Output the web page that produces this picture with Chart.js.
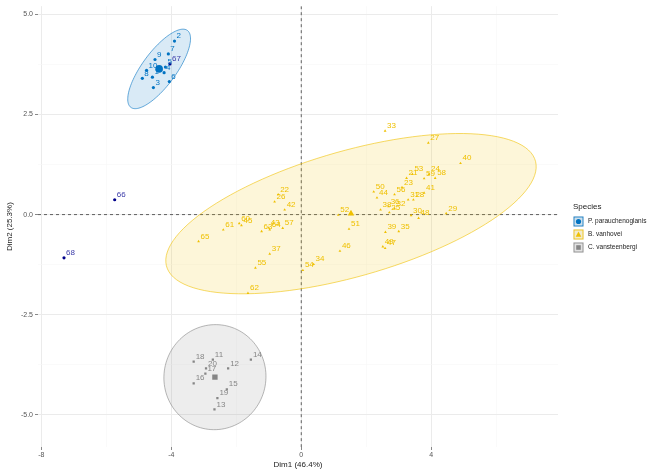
<!DOCTYPE html>
<html>
<head>
<meta charset="utf-8">
<script src="https://cdn.jsdelivr.net/npm/chart.js@4.4.1/dist/chart.umd.min.js"></script>
<style>
  html, body { margin: 0; padding: 0; background: #fff; }
  #wrap { width: 648px; height: 472px; }
</style>
</head>
<body>
<div id="wrap"><canvas id="pcaChart" width="648" height="472"></canvas></div>
<script>
// groups
const speciesNames = ["P. parauchenoglanis", "B. vanhovei", "C. vansteenbergi"];
const speciesColors = ["#0073C2", "#EFC000", "#868686"];
const speciesShapes = ["circle", "triangle", "rect"];
const supColor = "#00008B";

// individuals (PCA coordinates)
const paraLabels = ["1", "2", "3", "4", "5", "6", "7", "8", "9", "10"];
const paraDim1 = [-4.58, -3.90, -4.55, -4.22, -4.18, -4.06, -4.09, -4.89, -4.50, -4.76];
const paraDim2 = [3.43, 4.33, 3.17, 3.54, 3.68, 3.32, 4.01, 3.40, 3.87, 3.60];

const vanhLabels = ["21", "22", "23", "24", "25", "26", "27", "28", "29", "30",
  "31", "32", "33", "34", "35", "36", "37", "38", "39", "40",
  "41", "42", "43", "44", "45", "46", "47", "48", "49", "50",
  "51", "52", "53", "54", "55", "56", "57", "58", "59", "60",
  "61", "62", "63", "64", "65"];
const vanhDim1 = [3.24, -0.71, 3.10, 3.93, 2.71, -0.82, 3.91, 3.45, 4.46, 3.38,
  3.29, 2.87, 2.58, 0.38, 3.00, 2.69, -0.97, 2.44, 2.59, 4.90,
  3.78, -0.51, -1.00, 2.33, -1.84, 1.19, 2.58, 3.61, 2.51, 2.23,
  1.47, 1.14, 3.42, 0.05, -1.41, 2.87, -0.57, 4.12, 3.78, -1.91,
  -2.40, -1.64, -1.22, -0.97, -3.16];
const vanhDim2 = [0.91, 0.50, 0.68, 1.01, 0.05, 0.32, 1.79, 0.37, 0.03, -0.02,
  0.37, 0.15, 2.09, -1.24, -0.42, 0.20, -0.98, 0.12, -0.44, 1.28,
  0.54, 0.12, -0.33, 0.42, -0.27, -0.91, -0.84, -0.09, -0.80, 0.57,
  -0.36, -0.01, 1.01, -1.39, -1.33, 0.50, -0.34, 0.91, 0.90, -0.22,
  -0.38, -1.96, -0.42, -0.38, -0.67];

const vanstLabels = ["11", "12", "13", "14", "15", "16", "17", "18", "19", "20"];
const vanstDim1 = [-2.72, -2.25, -2.67, -1.55, -2.29, -3.31, -2.95, -3.31, -2.58, -2.93];
const vanstDim2 = [-3.62, -3.84, -4.86, -3.62, -4.36, -4.21, -3.97, -3.67, -4.58, -3.84];

// supplementary individuals
const supLabels = ["66", "67", "68"];
const supDim1 = [-5.74, -4.04, -7.30];
const supDim2 = [0.37, 3.76, -1.08];

// ellipse half axes (dim1, dim2 units), one per species
const ellipseMajor = [[0.87, 0.96], [5.68, 1.30], [1.57, 0.05]];
const ellipseMinor = [[0.42, -0.25], [0.46, -1.52], [0.04, -1.31]];

// axis ticks: grid values and the labelled ones
const xGridValues = [-8, -6, -4, -2, 0, 2, 4, 6];
const xTickLabels = [-8, -4, 0, 4];
const yGridValues = [-5, -3.75, -2.5, -1.25, 0, 1.25, 2.5, 3.75, 5];
const yTickLabels = [-5, -2.5, 0, 2.5, 5];

const groupLabels = [paraLabels, vanhLabels, vanstLabels];
const groupDim1 = [paraDim1, vanhDim1, vanstDim1];
const groupDim2 = [paraDim2, vanhDim2, vanstDim2];

function mean(arr) {
  return arr.reduce((a, b) => a + b, 0) / arr.length;
}
const groupMeans = groupDim1.map((d1, g) => [mean(d1), mean(groupDim2[g])]);

function rgba(hex, a) {
  const n = parseInt(hex.slice(1), 16);
  return `rgba(${(n >> 16) & 255}, ${(n >> 8) & 255}, ${n & 255}, ${a})`;
}

const isMajorX = (v) => xTickLabels.some((t) => Math.abs(t - v) < 1e-6);
const isMajorY = (v) => yTickLabels.some((t) => Math.abs(t - v) < 1e-6);

// ellipses and the dashed zero lines, under the points
const ellipsePlugin = {
  id: "groupEllipses",
  beforeDatasetsDraw(chart) {
    const { ctx, chartArea, scales } = chart;
    const xs = scales.x;
    const ys = scales.y;
    ctx.save();
    ctx.beginPath();
    ctx.rect(chartArea.left, chartArea.top, chartArea.width, chartArea.height);
    ctx.clip();

    // dashed axes through the origin
    ctx.strokeStyle = "#222";
    ctx.lineWidth = 0.7;
    ctx.setLineDash([3, 3]);
    const x0 = xs.getPixelForValue(0);
    const y0 = ys.getPixelForValue(0);
    ctx.beginPath();
    ctx.moveTo(x0, chartArea.top);
    ctx.lineTo(x0, chartArea.bottom);
    ctx.moveTo(chartArea.left, y0);
    ctx.lineTo(chartArea.right, y0);
    ctx.stroke();
    ctx.setLineDash([]);

    groupMeans.forEach((m, g) => {
      ctx.beginPath();
      const steps = 120;
      for (let i = 0; i <= steps; i++) {
        const t = (i / steps) * Math.PI * 2;
        const vx = m[0] + ellipseMajor[g][0] * Math.cos(t) + ellipseMinor[g][0] * Math.sin(t);
        const vy = m[1] + ellipseMajor[g][1] * Math.cos(t) + ellipseMinor[g][1] * Math.sin(t);
        const px = xs.getPixelForValue(vx);
        const py = ys.getPixelForValue(vy);
        if (i === 0) ctx.moveTo(px, py);
        else ctx.lineTo(px, py);
      }
      ctx.closePath();
      ctx.fillStyle = rgba(speciesColors[g], 0.15);
      ctx.fill();
      ctx.strokeStyle = rgba(speciesColors[g], 0.85);
      ctx.lineWidth = 0.7;
      ctx.stroke();
    });
    ctx.restore();
  },
};

// text labels next to the individuals
const labelPlugin = {
  id: "pointLabels",
  afterDatasetsDraw(chart) {
    const { ctx } = chart;
    ctx.save();
    ctx.font = "8px 'Liberation Sans', Arial, sans-serif";
    ctx.textAlign = "left";
    ctx.textBaseline = "bottom";
    chart.data.datasets.forEach((ds, i) => {
      if (!ds.pointText) return;
      const meta = chart.getDatasetMeta(i);
      ctx.fillStyle = ds.textColor;
      meta.data.forEach((pt, j) => {
        ctx.fillText(ds.pointText[j], pt.x + 2, pt.y - 1);
      });
    });
    ctx.restore();
  },
};

// legend on the right
const legendPlugin = {
  id: "speciesLegend",
  afterDraw(chart) {
    const { ctx } = chart;
    ctx.save();
    ctx.fillStyle = "#222";
    ctx.font = "8px 'Liberation Sans', Arial, sans-serif";
    ctx.textBaseline = "middle";
    ctx.fillText("Species", 573, 207);
    ctx.font = "6.5px 'Liberation Sans', Arial, sans-serif";
    speciesNames.forEach((name, g) => {
      const bx = 573;
      const by = 216 + g * 13;
      ctx.fillStyle = "#f2f2f2";
      ctx.fillRect(bx, by, 11, 11);
      ctx.fillStyle = rgba(speciesColors[g], 0.15);
      ctx.fillRect(bx + 1, by + 1, 9, 9);
      ctx.strokeStyle = speciesColors[g];
      ctx.lineWidth = 0.8;
      ctx.strokeRect(bx + 1, by + 1, 9, 9);
      ctx.fillStyle = speciesColors[g];
      ctx.beginPath();
      if (g === 0) {
        ctx.arc(bx + 5.5, by + 5.5, 2.6, 0, Math.PI * 2);
      } else if (g === 1) {
        ctx.moveTo(bx + 5.5, by + 2.5);
        ctx.lineTo(bx + 8.3, by + 7.8);
        ctx.lineTo(bx + 2.7, by + 7.8);
        ctx.closePath();
      } else {
        ctx.rect(bx + 3.2, by + 3.2, 4.6, 4.6);
      }
      ctx.fill();
      ctx.fillStyle = "#222";
      ctx.fillText(name, bx + 15, by + 5.5);
    });
    ctx.restore();
  },
};

const pointSets = groupDim1.map((d1, g) => ({
  label: speciesNames[g],
  data: d1.map((v, i) => ({ x: v, y: groupDim2[g][i] })),
  pointStyle: speciesShapes[g],
  pointRadius: 1.6,
  backgroundColor: speciesColors[g],
  borderColor: speciesColors[g],
  borderWidth: 0,
  pointText: groupLabels[g],
  textColor: speciesColors[g],
}));

const meanSets = groupMeans.map((m, g) => ({
  label: speciesNames[g] + " mean",
  data: [{ x: m[0], y: m[1] }],
  pointStyle: speciesShapes[g],
  pointRadius: 3.8,
  backgroundColor: speciesColors[g],
  borderColor: speciesColors[g],
  borderWidth: 0,
}));

const supSet = {
  label: "Supplementary",
  data: supDim1.map((v, i) => ({ x: v, y: supDim2[i] })),
  pointStyle: "circle",
  pointRadius: 1.6,
  backgroundColor: supColor,
  borderColor: supColor,
  borderWidth: 0,
  pointText: supLabels,
  textColor: "#3a3aa8",
};

const tickFont = { family: "'Liberation Sans', Arial, sans-serif", size: 7 };
const titleFont = { family: "'Liberation Sans', Arial, sans-serif", size: 8 };

new Chart(document.getElementById("pcaChart"), {
  type: "scatter",
  data: { datasets: [...pointSets, supSet, ...meanSets] },
  options: {
    responsive: false,
    animation: false,
    events: [],
    layout: { padding: { top: 5, right: 90, bottom: 1, left: 0 } },
    plugins: { legend: { display: false }, tooltip: { enabled: false } },
    scales: {
      x: {
        type: "linear",
        position: "bottom",
        min: -8.1,
        max: 7.9,
        afterBuildTicks: (s) => { s.ticks = xGridValues.map((v) => ({ value: v })); },
        border: { display: false },
        grid: {
          color: (c) => (isMajorX(c.tick.value) ? "#ebebeb" : "#f6f6f6"),
          lineWidth: (c) => (isMajorX(c.tick.value) ? 1 : 0.6),
          tickColor: (c) => (isMajorX(c.tick.value) ? "#888" : "rgba(0,0,0,0)"),
          tickLength: 3,
        },
        ticks: {
          autoSkip: false,
          maxRotation: 0,
          padding: 1,
          color: "#555",
          font: tickFont,
          callback: (v) => (isMajorX(v) ? String(v) : ""),
        },
        title: {
          display: true,
          text: "Dim1 (46.4%)",
          color: "#222",
          font: titleFont,
          padding: { top: 0, bottom: 1 },
        },
      },
      y: {
        type: "linear",
        min: -5.8,
        max: 5.2,
        afterBuildTicks: (s) => { s.ticks = yGridValues.map((v) => ({ value: v })); },
        afterFit: (s) => { s.width = 38; },
        border: { display: false },
        grid: {
          color: (c) => (isMajorY(c.tick.value) ? "#ebebeb" : "#f6f6f6"),
          lineWidth: (c) => (isMajorY(c.tick.value) ? 1 : 0.6),
          tickColor: (c) => (isMajorY(c.tick.value) ? "#888" : "rgba(0,0,0,0)"),
          tickLength: 3,
        },
        ticks: {
          autoSkip: false,
          padding: 2,
          color: "#555",
          font: tickFont,
          callback: (v) => (isMajorY(v) ? v.toFixed(1) : ""),
        },
        title: {
          display: true,
          text: "Dim2 (25.3%)",
          color: "#222",
          font: titleFont,
          padding: { top: 5, bottom: 0 },
        },
      },
    },
  },
  plugins: [ellipsePlugin, labelPlugin, legendPlugin],
});
</script>
</body>
</html>
